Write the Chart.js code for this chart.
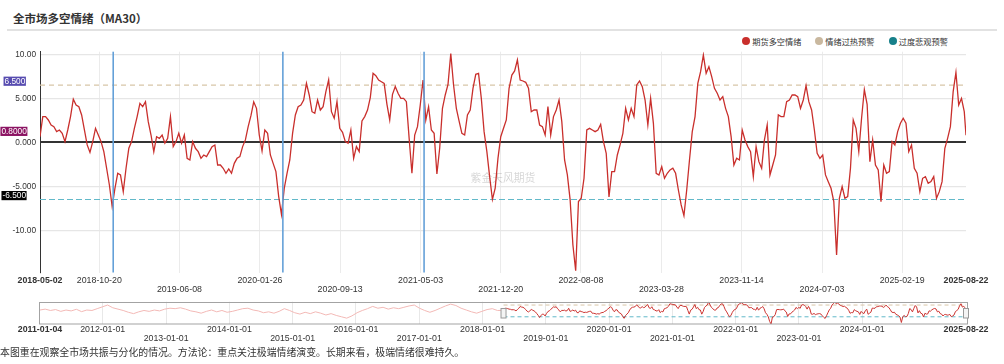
<!DOCTYPE html>
<html><head><meta charset="utf-8">
<script src="https://cdn.jsdelivr.net/npm/chart.js@4.4.1/dist/chart.umd.min.js"></script>
<style>
html,body{margin:0;padding:0;background:#fff;}
body{width:1004px;height:364px;position:relative;overflow:hidden;font-family:"Noto Sans CJK SC","Noto Sans",sans-serif;color:#333;}
#title{position:absolute;left:13px;top:11.5px;font-size:11.5px;line-height:13px;font-weight:bold;color:#333;white-space:nowrap;}
#rule{position:absolute;left:7px;top:29px;width:990px;height:1.6px;background:#e2e2e2;}
.lg-dot{position:absolute;width:8.4px;height:8.4px;border-radius:50%;}
.lg-txt{position:absolute;font-size:8.2px;line-height:10px;color:#333;white-space:nowrap;}
#main{position:absolute;left:0;top:0;}
#nav{position:absolute;left:0;top:290px;}
#foot{position:absolute;left:0;top:347px;font-size:9.9px;line-height:11px;color:#333;white-space:nowrap;}
</style>
</head><body>
<div id="title">全市场多空情绪（MA30）</div>
<div id="rule"></div>
<div id="legend"></div>
<canvas id="main" width="1004" height="300"></canvas>
<canvas id="nav" width="1004" height="60"></canvas>
<div id="foot">本图重在观察全市场共振与分化的情况。方法论：重点关注极端情绪演变。长期来看，极端情绪很难持久。</div>
<script>
// ---------- data ----------
const MAIN_START = '2018-05-02';
const MAIN_END = '2025-08-22';
const MAIN_STEP_DAYS = 8;
const sentimentValues = [
 0.64,2.92,2.92,2.54,1.97,1.78,1.21,1.40,1.02,0.08,1.40,2.92,4.9,4.24,4.05,3.11,1.40,-0.30,-1.14,0.08,1.59,0.83,0.08,-1.06,-2.95,-4.85,-7.3,-5.23,-3.52,-3.71,-5.61,-2.95,-0.68,0.08,1.59,2.92,4.43,4.05,4.62,2.35,0.83,-1.06,0.64,0.45,0.83,-0.11,0.45,2.92,-0.49,0.08,1.02,-0.11,0.83,-1.82,-2.01,0.08,-0.68,
 -1.06,-1.82,-1.44,-1.63,-1.06,-0.49,-0.30,-2.58,-2.58,-2.95,-3.52,-3.03,-3.52,-2.39,-1.82,-1.63,-0.49,0.27,1.78,3.03,4.6,3.86,0.83,-0.98,1.40,1.02,-1.44,-2.39,-3.33,-6.17,-8.2,-5.23,-3.52,-2.01,1.02,3.11,4.05,4.24,4.81,6.70,5.38,3.48,3.30,4.81,3.67,4.05,5.76,7.1,3.48,2.73,4.62,1.59,1.14,0.08,-0.11,1.40,-1.82,
 -0.49,-1.06,2.42,2.92,3.67,5.08,7.84,7.58,7.08,6.89,6.70,4.32,2.54,5.45,6.33,5.57,5.0,5.0,4.62,0.45,-3.52,0.83,1.78,4.24,7.08,2.54,4.05,1.40,1.02,-3.6,-0.68,3.86,5.38,6.59,10.1,6.52,3.86,2.42,1.02,0.83,3.11,3.67,6.14,7.73,7.84,5.0,1.21,-1.06,-3.90,-6.5,-5.2,-1.82,0.64,1.59,2.54,6.14,7.65,
 8.11,9.36,7.08,6.97,6.82,6.14,3.48,3.67,3.67,1.97,1.78,0.83,4.05,0.83,2.92,3.67,4.81,2.35,-2.01,-3.71,-6.55,-11.67,-14.6,-6.74,-6.36,-4.09,1.40,1.59,1.40,1.21,1.40,2.05,0.08,-1.25,-6.2,-3.33,-3.33,-1.44,-0.30,1.02,3.86,2.54,3.86,2.92,6.52,6.97,6.33,4.81,1.97,5.0,2.16,-3.52,-3.71,-2.77,-4.09,-3.52,-3.14,
 -2.95,-3.52,-5.42,-7.12,-8.33,-5.42,-2.01,1.21,2.92,6.70,8.03,9.92,7.84,8.60,7.46,6.14,5.57,4.81,5.19,3.86,2.92,0.64,-2.58,-1.82,-2.01,1.40,0.27,-0.49,-1.06,-3.90,-0.49,-2.20,-2.95,0.27,1.97,-3.71,-2.58,-1.44,3.11,2.92,2.92,4.62,4.81,5.38,5.38,5.19,3.86,4.81,6.44,4.62,3.67,1.40,-1.25,-1.82,-1.44,-3.71,
 -4.47,-5.23,-6.74,-12.8,-6.36,-5.04,-6.36,-6.17,-2.95,2.54,1.59,-1.06,2.73,6.0,4.32,-2.20,0.27,-2.58,-3.14,-6.74,-2.58,-3.52,-3.33,0.08,-0.30,1.21,2.16,2.73,2.16,-1.06,-0.30,-2.95,-3.52,-5.61,-4.09,-3.90,-4.66,-4.47,-3.90,-6.36,-5.61,-4.47,-0.68,0.45,1.78,5.76,7.95,4.24,5.0,3.48
];
const sentimentLastValue = 0.8;

const HIST_START = '2011-01-04';
const HIST_STEP_DAYS = 30;
const historyValues = [
 1.0,2.0,0.5,1.5,-0.5,1.0,0.0,1.8,-0.8,1.0,
 0.5,2.5,4.5,6.5,3.5,2.0,0.5,-1.5,-3.0,-1.0,
 0.5,-0.5,1.0,0.0,2.0,3.0,2.5,3.5,2.0,0.0,
 -1.0,-2.5,-0.5,1.0,-1.0,0.5,-1.5,-0.5,1.0,2.5,
 3.0,1.0,0.0,-2.0,-1.0,-2.5,-0.5,2.5,0.5,-2.0,
 -3.5,-1.5,-3.0,-1.0,-2.5,-4.5,-3.0,-5.0,-6.5,-8.0,
 -5.5,-2.0,0.5,2.5,5.0,3.0,4.0,2.0,3.5,2.5,
 4.0,5.5,6.5,3.0,0.5,-1.5,0.5,3.0,5.5,7.5,
 6.0,3.0,1.0,-1.0,-2.5,-0.5,1.5,2.5,0.5,0.6
];

const overheatLevel = 6.5;
const pessimismLevel = -6.5;
const seriesNames = ['期货多空情绪', '情绪过热预警', '过度悲观预警'];
const yTickValues = [-10, -5, 0, 5, 10];
const mainTickLabels = ['2018-05-02','2018-10-20','2019-06-08','2020-01-26','2020-09-13','2021-05-03','2021-12-20','2022-08-08','2023-03-28','2023-11-14','2024-07-03','2025-02-19','2025-08-22'];
const navTickLabels = ['2011-01-04','2012-01-01','2013-01-01','2014-01-01','2015-01-01','2016-01-01','2017-01-01','2018-01-01','2019-01-01','2020-01-01','2021-01-01','2022-01-01','2023-01-01','2024-01-01','2025-08-22'];
const markerDates = ['2018-11-29', '2020-04-01', '2021-05-13'];
const watermarkText = '紫金天风期货';

// ---------- styles ----------
const C_RED = '#c92f2c', C_BEIGE = '#c9b89f', C_TEAL = '#17808a';
const C_BEIGE_LINE = '#d8c6a8', C_TEAL_LINE = '#62b9c9';
const LATIN = '"Liberation Sans", Arial, sans-serif';

// ---------- helpers ----------
const DAY = 864e5;
function dayNum(s){ const p = s.split('-').map(Number); return Date.UTC(p[0], p[1]-1, p[2]) / DAY; }
const mainStart = dayNum(MAIN_START), mainEnd = dayNum(MAIN_END), histStart = dayNum(HIST_START);
const mainPoints = sentimentValues.map((v, i) => ({x: mainStart + i * MAIN_STEP_DAYS, y: v}));
mainPoints.push({x: mainEnd, y: sentimentLastValue});
const histPoints = historyValues.map((v, i) => ({x: histStart + i * HIST_STEP_DAYS, y: v}));
histPoints.push(mainPoints[0]);
const overheatLine = [{x: mainStart, y: overheatLevel}, {x: mainEnd, y: overheatLevel}];
const pessimLine = [{x: mainStart, y: pessimismLevel}, {x: mainEnd, y: pessimismLevel}];

function isEdge(i, n){ return i === 0 || i === n - 1; }
function rowLabel(list, i){ const l = list[i]; if (l === undefined) return ''; return (!isEdge(i, list.length) && i % 2 === 0) ? ['', l] : l; }

// ---------- legend ----------
(function(){
  const lg = document.getElementById('legend');
  const cols = [C_RED, C_BEIGE, C_TEAL];
  const dotX = [746.3, 819.3, 892.7];
  seriesNames.forEach((n, i) => {
    const d = document.createElement('div'); d.className = 'lg-dot';
    d.style.left = (dotX[i] - 4.2) + 'px'; d.style.top = (40.7 - 4.2) + 'px'; d.style.background = cols[i];
    lg.appendChild(d);
    const t = document.createElement('div'); t.className = 'lg-txt'; t.textContent = n;
    t.style.left = (dotX[i] + 6) + 'px'; t.style.top = '35.7px';
    lg.appendChild(t);
  });
})();

// ---------- main chart ----------
const mainDecor = {
  id: 'mainDecor',
  beforeDatasetsDraw(chart){
    const ctx = chart.ctx; ctx.save();
    ctx.font = '10.8px "Noto Sans CJK SC"'; ctx.fillStyle = 'rgba(0,0,0,0.17)';
    ctx.textAlign = 'center'; ctx.textBaseline = 'middle';
    ctx.fillText(watermarkText, (chart.chartArea.left + chart.chartArea.right) / 2, 178);
    ctx.restore();
  },
  afterDatasetsDraw(chart){
    const ctx = chart.ctx, a = chart.chartArea, xs = chart.scales.x;
    ctx.save(); ctx.strokeStyle = '#64a0d8'; ctx.lineWidth = 1.6;
    markerDates.forEach(d => {
      const px = xs.getPixelForValue(dayNum(d));
      ctx.beginPath(); ctx.moveTo(px, a.top); ctx.lineTo(px, a.bottom); ctx.stroke();
    });
    ctx.restore();
  },
  afterDraw(chart){
    const ctx = chart.ctx, ys = chart.scales.y;
    const tags = [
      {v: overheatLevel, bg: '#574cb0', right: 25.3},
      {v: sentimentLastValue, bg: '#8c1463', right: 26.8},
      {v: pessimismLevel, bg: '#000000', right: 26.0}
    ];
    ctx.save();
    ctx.font = '8.3px ' + LATIN; ctx.textBaseline = 'middle'; ctx.textAlign = 'right';
    tags.forEach(t => {
      const txt = Number(t.v).toPrecision(4);
      const y = ys.getPixelForValue(t.v) - 3.9;
      const w = ctx.measureText(txt).width;
      ctx.fillStyle = t.bg; ctx.fillRect(t.right - w - 1, y - 4.6, w + 1.6, 9.2);
      ctx.fillStyle = '#ffffff'; ctx.fillText(txt, t.right, y + 0.3);
    });
    ctx.restore();
  }
};

new Chart(document.getElementById('main'), {
  type: 'line',
  data: { datasets: [
    {label: seriesNames[0], data: mainPoints, borderColor: C_RED, borderWidth: 1.3, pointRadius: 0, tension: 0},
    {label: seriesNames[1], data: overheatLine, borderColor: C_BEIGE_LINE, borderWidth: 1.2, borderDash: [5, 4], pointRadius: 0},
    {label: seriesNames[2], data: pessimLine, borderColor: C_TEAL_LINE, borderWidth: 1.2, borderDash: [6, 3], pointRadius: 0}
  ]},
  options: {
    responsive: false, animation: false, devicePixelRatio: 1, events: [],
    layout: {padding: {left: 0, right: 38, top: 51.7, bottom: 0}},
    plugins: {legend: {display: false}, tooltip: {enabled: false}},
    scales: {
      x: {
        type: 'linear', min: mainStart, max: mainEnd,
        afterBuildTicks: s => { s.ticks = mainTickLabels.map(l => ({value: dayNum(l)})); },
        afterFit: s => { s.height = 27.5; },
        border: {display: false},
        grid: {drawTicks: false, lineWidth: 1,
          color: c => isEdge(c.index, mainTickLabels.length) ? 'rgba(0,0,0,0)' : '#ebebeb'},
        ticks: {autoSkip: false, maxRotation: 0, minRotation: 0, padding: 3.5, color: '#333',
          font: c => ({family: LATIN, size: 8.8, lineHeight: 9 / 8.8, weight: isEdge(c.index, mainTickLabels.length) ? 'bold' : 'normal'}),
          callback: (v, i) => rowLabel(mainTickLabels, i)}
      },
      y: {
        min: -14.8, max: 10.3,
        afterBuildTicks: s => { s.ticks = yTickValues.map(v => ({value: v})); },
        afterFit: s => { s.width = 40; },
        border: {display: true, color: '#333', width: 1},
        grid: {drawTicks: false,
          color: c => (c.tick && c.tick.value === 0) ? '#333' : '#e6e6e6',
          lineWidth: c => (c.tick && c.tick.value === 0) ? 2 : 1.2},
        ticks: {padding: 4, color: '#333', font: {family: LATIN, size: 8.3},
          callback: v => Number(v).toPrecision(4)}
      }
    }
  },
  plugins: [mainDecor]
});

// ---------- navigator ----------
const navDecor = {
  id: 'navDecor',
  afterDraw(chart){
    const ctx = chart.ctx, a = chart.chartArea, xs = chart.scales.x;
    ctx.save();
    ctx.strokeStyle = '#a3a3a3'; ctx.lineWidth = 1;
    ctx.strokeRect(39.5, 12.5, a.right - 39.5 + 1.5, 21.5);
    [mainStart, mainEnd].forEach(v => {
      const px = xs.getPixelForValue(v);
      ctx.fillStyle = '#f4f4f4'; ctx.strokeStyle = '#999';
      ctx.fillRect(px - 2.5, 18.5, 5, 9.5); ctx.strokeRect(px - 2.5, 18.5, 5, 9.5);
    });
    ctx.restore();
  }
};

new Chart(document.getElementById('nav'), {
  type: 'line',
  data: { datasets: [
    {data: mainPoints, borderColor: '#cc3431', borderWidth: 1, pointRadius: 0},
    {data: histPoints, borderColor: '#f3b9b6', borderWidth: 1, pointRadius: 0},
    {data: overheatLine, borderColor: C_BEIGE_LINE, borderWidth: 1, borderDash: [4, 3], pointRadius: 0},
    {data: pessimLine, borderColor: C_TEAL_LINE, borderWidth: 1, borderDash: [4, 3], pointRadius: 0}
  ]},
  options: {
    responsive: false, animation: false, devicePixelRatio: 1, events: [],
    layout: {padding: {left: 40, right: 38, top: 11.7, bottom: 0}},
    plugins: {legend: {display: false}, tooltip: {enabled: false}},
    scales: {
      x: {
        type: 'linear', min: histStart, max: mainEnd,
        afterBuildTicks: s => { s.ticks = navTickLabels.map(l => ({value: dayNum(l)})); },
        afterFit: s => { s.height = 25.7; },
        border: {display: false},
        grid: {drawTicks: false, lineWidth: 1,
          color: c => isEdge(c.index, navTickLabels.length) ? 'rgba(0,0,0,0)' : '#e8e8e8'},
        ticks: {autoSkip: false, maxRotation: 0, minRotation: 0, padding: 0.8, color: '#333',
          font: c => ({family: LATIN, size: 8.8, lineHeight: 9 / 8.8, weight: isEdge(c.index, navTickLabels.length) ? 'bold' : 'normal'}),
          callback: (v, i) => rowLabel(navTickLabels, i)}
      },
      y: {display: false, min: -14.8, max: 10.2}
    }
  },
  plugins: [navDecor]
});
</script>
</body></html>
